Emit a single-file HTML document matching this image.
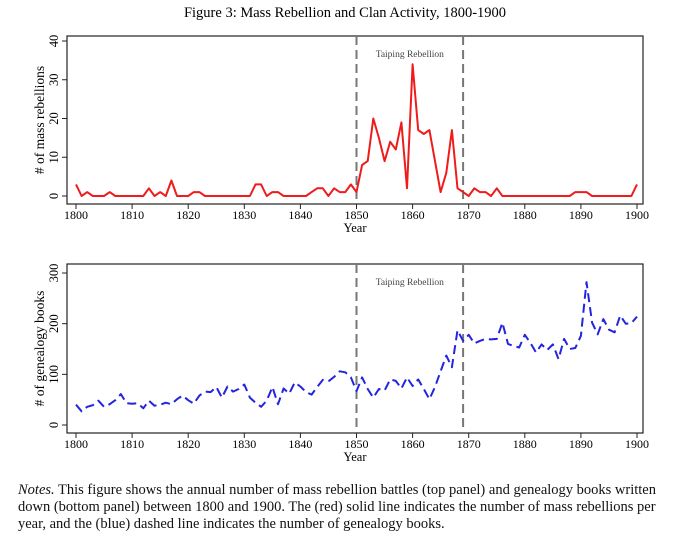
<!DOCTYPE html>
<html><head><meta charset="utf-8"><style>
body{margin:0;background:#fff;width:690px;height:551px;overflow:hidden;font-family:"Liberation Serif",serif;}
svg text{font-family:"Liberation Serif",serif;}
.notes{position:absolute;left:18px;top:482px;width:680px;font-size:14.5px;line-height:17px;color:#111;white-space:nowrap;}
</style></head><body>
<svg id="chart" width="690" height="480" style="position:absolute;left:0;top:0">
<text x="345" y="17" text-anchor="middle" font-size="14.5">Figure 3: Mass Rebellion and Clan Activity, 1800-1900</text>
</svg>
<div class="notes"><i>Notes.</i> This figure shows the annual number of mass rebellion battles (top panel) and genealogy books written<br>down (bottom panel) between 1800 and 1900. The (red) solid line indicates the number of mass rebellions per<br>year, and the (blue) dashed line indicates the number of genealogy books.</div>
<script>
const years=[];for(let y=1800;y<=1900;y++)years.push(y);
const xTicks=[1800,1810,1820,1830,1840,1850,1860,1870,1880,1890,1900];
const rebelTicks=[0,10,20,30,40];
const bookTicks=[0,100,200,300];
const rebellions=[3,0,1,0,0,0,1,0,0,0,0,0,0,2,0,1,0,4,0,0,0,1,1,0,0,0,0,0,0,0,0,0,3,3,0,1,1,0,0,0,0,0,1,2,2,0,2,1,1,3,1,8,9,20,15,9,14,12,19,2,34,17,16,17,9,1,6,17,2,1,0,2,1,1,0,2,0,0,0,0,0,0,0,0,0,0,0,0,0,1,1,1,0,0,0,0,0,0,0,0,3];
const books=[40,27,36,39,48,36,41,49,61,43,42,43,33,48,38,40,44,41,51,58,49,42,58,66,65,75,54,76,66,71,80,54,44,36,48,75,41,72,62,84,76,65,60,75,89,86,95,106,104,94,67,94,71,54,71,68,90,87,72,94,77,90,71,51,75,106,137,114,187,166,178,161,166,170,169,170,202,160,156,153,178,162,143,159,148,159,130,170,150,152,176,282,202,179,209,188,183,216,200,201,214];
const events=[1850,1869];
const NS='http://www.w3.org/2000/svg';
const svg=document.getElementById('chart');
function mk(tag,attrs,parent){const e=document.createElementNS(NS,tag);for(const k in attrs)e.setAttribute(k,attrs[k]);(parent||svg).appendChild(e);return e;}
const xScale=v=>76+(v-1800)*(637-76)/100;
function panel(p){
  const g=mk('g',{});
  
  
  const ys=v=>p.y0+(v-p.min)*(p.y1-p.y0)/(p.max-p.min);
  const fr=mk('rect',{x:67,y:p.top,width:576,height:p.bot-p.top,fill:'none',stroke:'#222','stroke-width':1.2},g);
  
  
  p.yt.forEach(t=>{
    mk('line',{x1:62,x2:67,y1:ys(t),y2:ys(t),stroke:'#222'},g);
    const tx=mk('text',{x:58,y:ys(t),'font-size':12.5,'text-anchor':'middle',transform:`rotate(-90 58 ${ys(t)})`},g);
    tx.textContent=t;
    
    
  });
  xTicks.forEach(t=>{
    mk('line',{x1:xScale(t),x2:xScale(t),y1:p.bot,y2:p.bot+5,stroke:'#222'},g);
    const tx=mk('text',{x:xScale(t),y:p.bot+15,'font-size':12,'text-anchor':'middle'},g);
    tx.textContent=t;
    
    
  });
  const xt=mk('text',{x:355,y:p.bot+28,'font-size':12.5,'text-anchor':'middle'},g);
  xt.textContent='Year';
  
  
  const cy=(p.top+p.bot)/2;
  const yt=mk('text',{x:44,y:cy,'font-size':13.5,'text-anchor':'middle',transform:`rotate(-90 44 ${cy})`},g);
  yt.textContent=p.ylab;
  
  
  events.forEach(e=>{
    const l=mk('line',{x1:xScale(e),x2:xScale(e),y1:p.top,y2:p.bot,stroke:'#777','stroke-width':2,'stroke-dasharray':'9,5'},g);
    
    
  });
  const lt=mk('text',{x:(xScale(events[0])+xScale(events[1]))/2,y:p.top+21,'font-size':9.5,'text-anchor':'middle',fill:'#444'},g);
  lt.textContent='Taiping Rebellion';
  
  
  const d=p.data.map((v,i)=>(i?'L':'M')+xScale(years[i]).toFixed(1)+','+ys(v).toFixed(1)).join('');
  const path=mk('path',{d:d,fill:'none',stroke:p.color,'stroke-width':2,'stroke-dasharray':p.dash||'none','stroke-linejoin':'round'},g);
  
  
}
panel({name:'rebellion-panel',series:'rebellions-line',top:36,bot:204,min:0,max:40,y0:196,y1:41,yt:rebelTicks,ylab:'# of mass rebellions',data:rebellions,color:'#ee1c1c'});
panel({name:'genealogy-panel',series:'genealogy-line',top:264,bot:433,min:0,max:300,y0:425,y1:273,yt:bookTicks,ylab:'# of genealogy books',data:books,color:'#2424e0',dash:'9,5'});
</script>
</body></html>
